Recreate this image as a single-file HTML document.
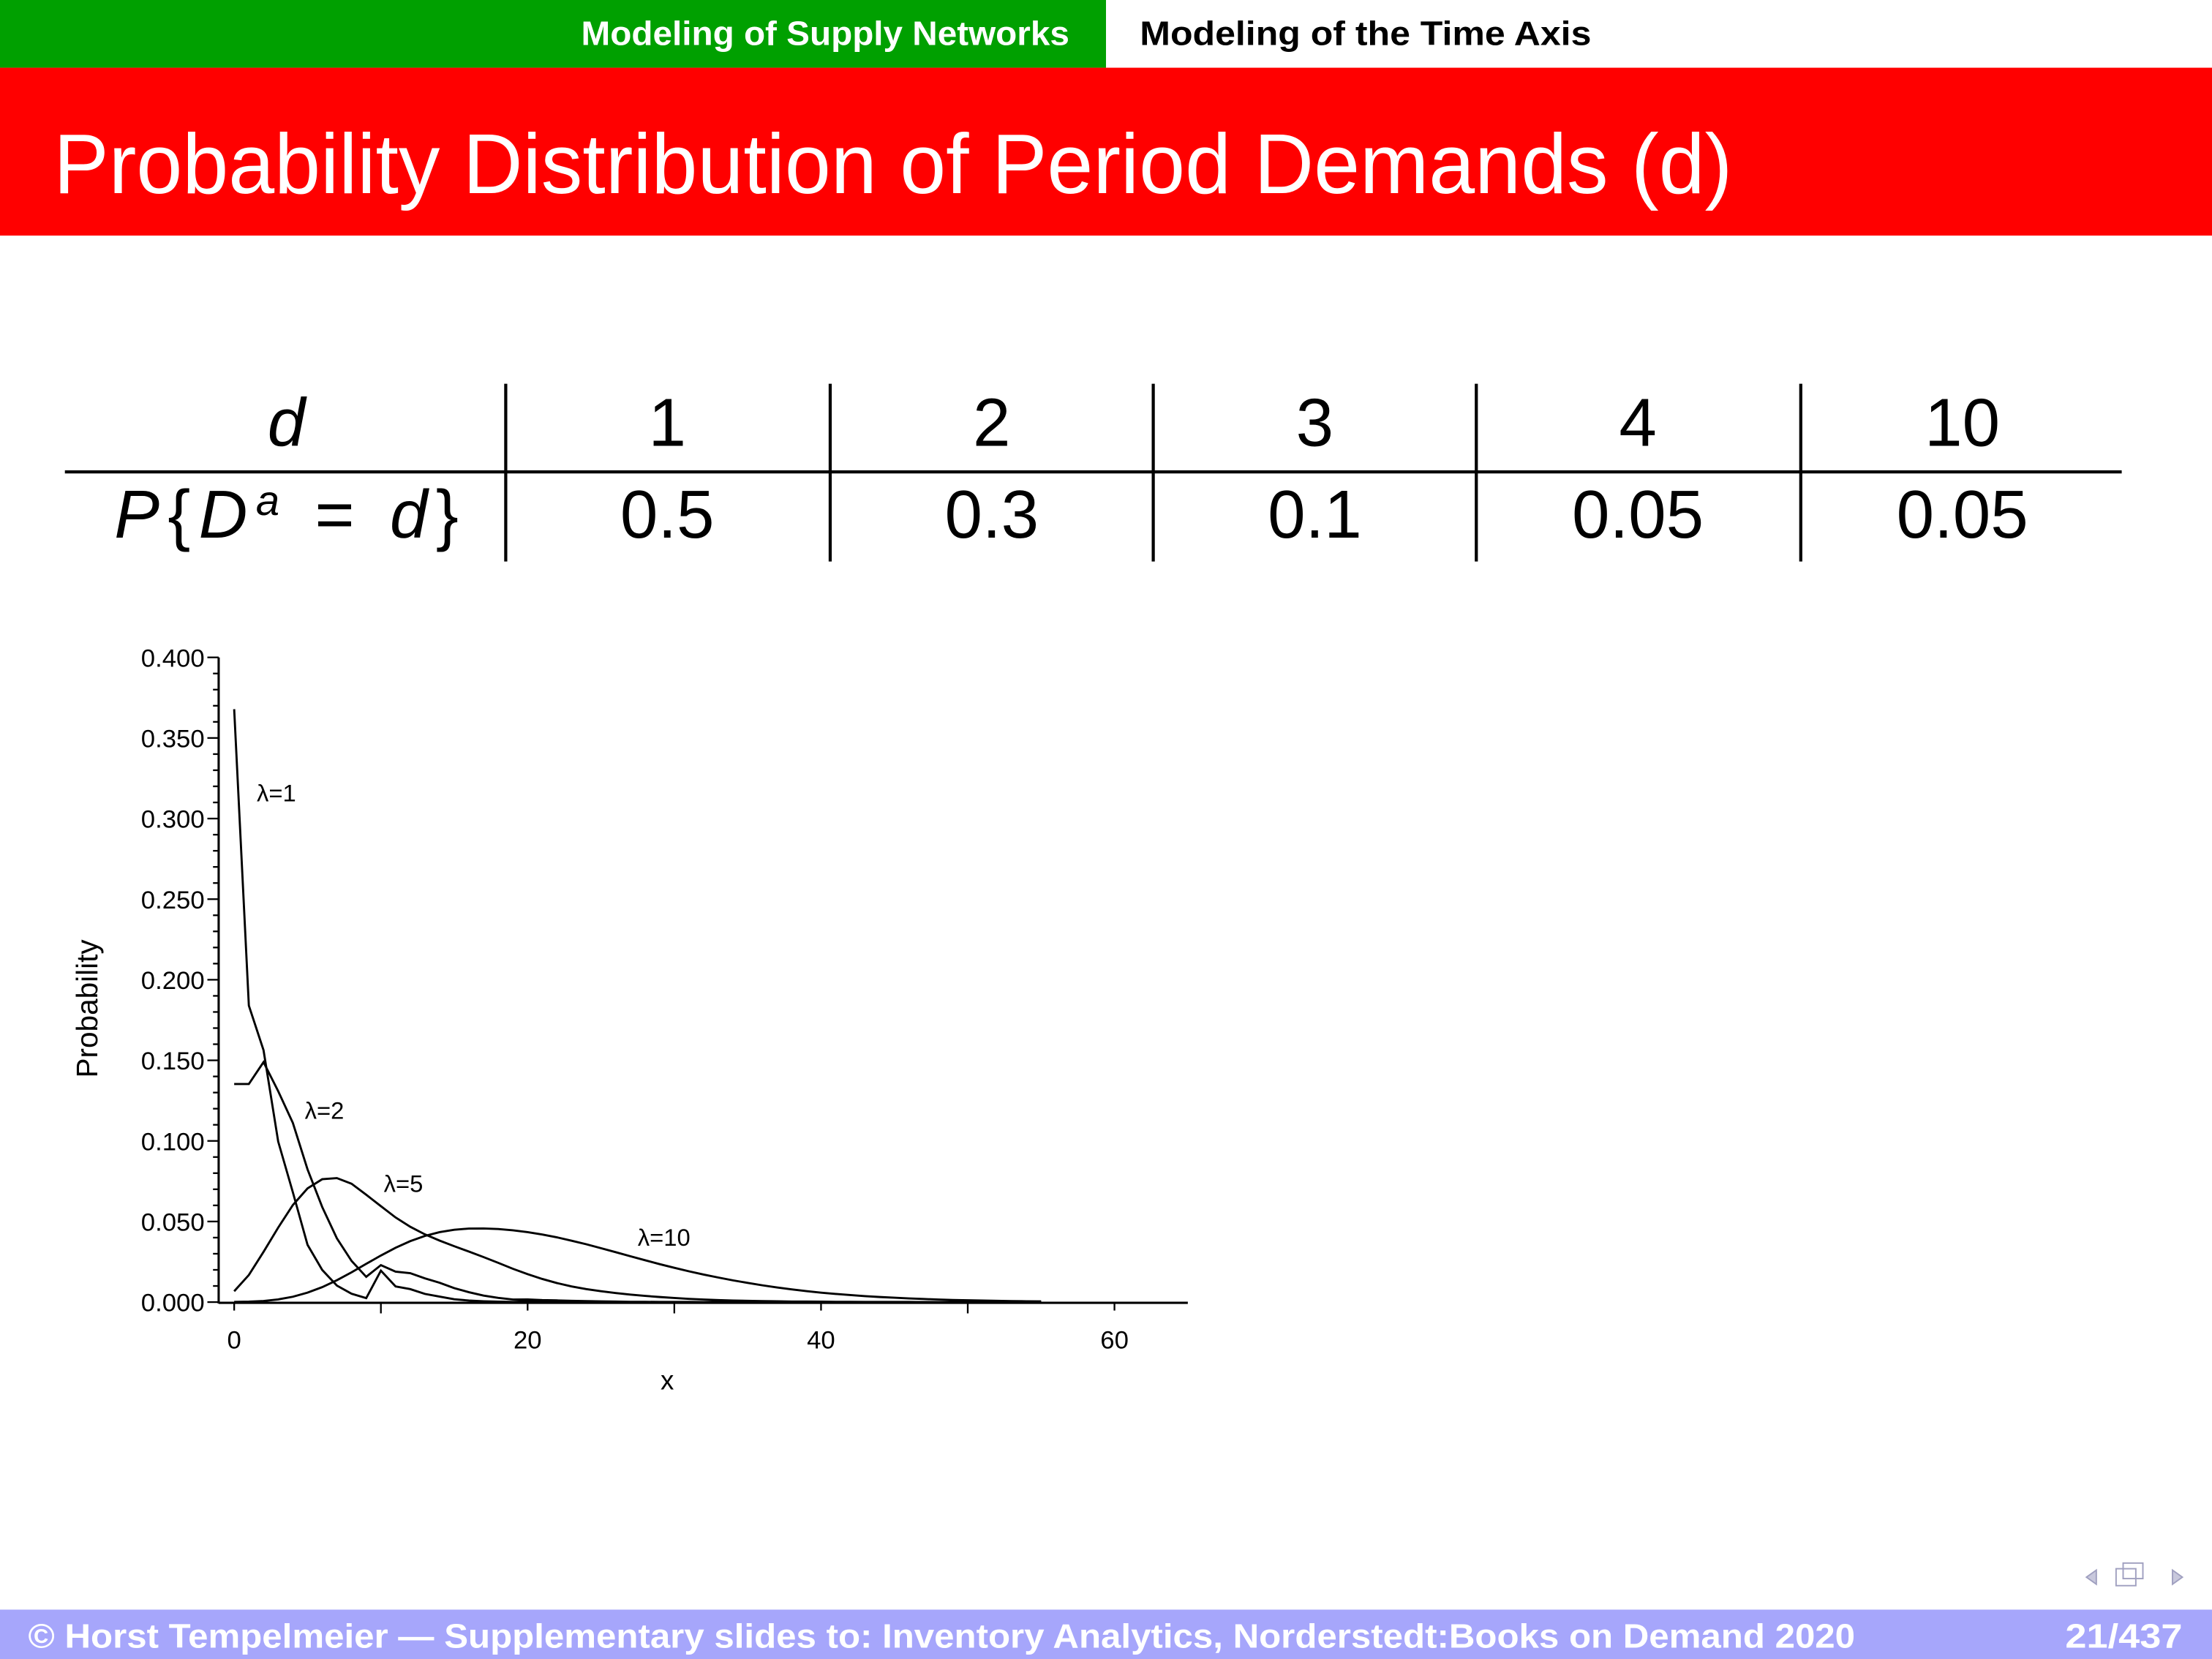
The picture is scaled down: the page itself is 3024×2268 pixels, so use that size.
<!DOCTYPE html>
<html><head><meta charset="utf-8"><style>
html,body{margin:0;padding:0;background:#fff;}
svg{display:block;}
text{font-family:"Liberation Sans","DejaVu Sans",sans-serif;}
</style></head><body>
<svg width="3024" height="2268" viewBox="0 0 1568 1176" xmlns="http://www.w3.org/2000/svg">
<rect x="0" y="0" width="784" height="48" fill="#00a000"/>
<text x="585" y="32" fill="#fff" font-size="24" font-weight="bold" text-anchor="middle" textLength="346" lengthAdjust="spacingAndGlyphs">Modeling of Supply Networks</text>
<text x="808" y="32" fill="#000" font-size="24" font-weight="bold" textLength="320" lengthAdjust="spacingAndGlyphs">Modeling of the Time Axis</text>
<rect x="0" y="48" width="1568" height="119" fill="#ff0000"/>
<text x="38" y="137" fill="#fff" font-size="60" textLength="1190" lengthAdjust="spacingAndGlyphs">Probability Distribution of Period Demands (d)</text>

<!-- table -->
<g stroke="#000" stroke-width="2.2">
<line x1="46" y1="334.5" x2="1504" y2="334.5"/>
<line x1="358.5" y1="272" x2="358.5" y2="398"/>
<line x1="588.5" y1="272" x2="588.5" y2="398"/>
<line x1="817.5" y1="272" x2="817.5" y2="398"/>
<line x1="1046.5" y1="272" x2="1046.5" y2="398"/>
<line x1="1276.5" y1="272" x2="1276.5" y2="398"/>
</g>
<g font-size="48" text-anchor="middle" fill="#000">
<text x="203" y="316" font-style="italic">d</text>
<text x="473" y="316">1</text><text x="703" y="316">2</text><text x="932" y="316">3</text><text x="1161" y="316">4</text><text x="1391" y="316">10</text>
<text x="203" y="381" textLength="244" lengthAdjust="spacing"><tspan font-style="italic">P</tspan>{<tspan font-style="italic">D</tspan><tspan font-size="30" dy="-16" font-style="italic">a</tspan><tspan dy="16"> = </tspan><tspan font-style="italic">d</tspan>}</text>
<text x="473" y="381">0.5</text><text x="703" y="381">0.3</text><text x="932" y="381">0.1</text><text x="1161" y="381">0.05</text><text x="1391" y="381">0.05</text>
</g>

<!-- chart -->
<g id="chart" stroke="#000" fill="none" stroke-width="1.6">
<line x1="155" y1="466" x2="155" y2="924"/>
<line x1="155" y1="923.5" x2="842" y2="923.5"/>
<g id="ticks" stroke-width="1.2"></g>
<g id="curves" stroke-width="1.5"></g>
</g>
<g font-size="18" fill="#000" text-anchor="end" id="ylabels"></g>
<g font-size="18" fill="#000" text-anchor="middle">
<text x="166" y="956">0</text><text x="374" y="956">20</text><text x="582" y="956">40</text><text x="790" y="956">60</text>
<text x="473" y="985" font-size="19">x</text>
</g>
<text transform="translate(69,715) rotate(-90)" font-size="21" text-anchor="middle" fill="#000">Probability</text>
<g font-size="17" fill="#000">
<text x="182" y="568">λ=1</text>
<text x="216" y="793">λ=2</text>
<text x="272" y="845">λ=5</text>
<text x="452" y="883">λ=10</text>
</g>

<!-- nav -->
<g fill="#c8c8dc" stroke="#a0a0c0" stroke-width="1">
<path d="M1486 1113 l-7 5 l7 5 z"/><path d="M1540 1113 l7 5 l-7 5 z"/>
<rect x="1500" y="1112" width="14" height="12" fill="none"/><rect x="1505" y="1108" width="14" height="11" fill="none"/>
</g>

<rect x="0" y="1141" width="1568" height="35" fill="#a6a6fb"/>
<text x="20" y="1168" fill="#fff" font-size="24" font-weight="bold" textLength="1295" lengthAdjust="spacingAndGlyphs">© Horst Tempelmeier — Supplementary slides to: Inventory Analytics, Norderstedt:Books on Demand 2020</text>
<text x="1547" y="1168" fill="#fff" font-size="24" font-weight="bold" text-anchor="end" textLength="83" lengthAdjust="spacingAndGlyphs">21/437</text>
</svg>
<script>
(function(){
var NS="http://www.w3.org/2000/svg";
function X(v){return 166+v*10.4;}
function Y(p){return 923-p*1142.5;}
var ticks=document.getElementById('ticks'),yl=document.getElementById('ylabels'),cv=document.getElementById('curves');
function line(g,a,b,c,d){var l=document.createElementNS(NS,'line');l.setAttribute('x1',a);l.setAttribute('y1',b);l.setAttribute('x2',c);l.setAttribute('y2',d);g.appendChild(l);}
for(var i=0;i<=40;i++){var y=Y(i*0.01);var major=(i%5==0);line(ticks,major?147:151,y,155,y);
 if(major){var t=document.createElementNS(NS,'text');t.setAttribute('x',145);t.setAttribute('y',y+6.5);t.textContent=(i*0.01).toFixed(3);yl.appendChild(t);}}
for(var k=0;k<=6;k++){var x=X(k*10);line(ticks,x,923,x,k%2==0?929:931);}
var js=[1,2,3,4,10],ps=[0.5,0.3,0.1,0.05,0.05];
[1,2,5,10].forEach(function(L){
 var f=[Math.exp(-L)];
 for(var x=1;x<=55;x++){var s=0;for(var j=0;j<5;j++){if(x-js[j]>=0)s+=js[j]*ps[j]*f[x-js[j]];}f.push(L/x*s);}
 var d='';for(var x=0;x<=55;x++){d+=(x?'L':'M')+X(x).toFixed(1)+' '+Y(f[x]).toFixed(1);}
 var p=document.createElementNS(NS,'path');p.setAttribute('d',d);cv.appendChild(p);
});
})();
</script>
</body></html>
